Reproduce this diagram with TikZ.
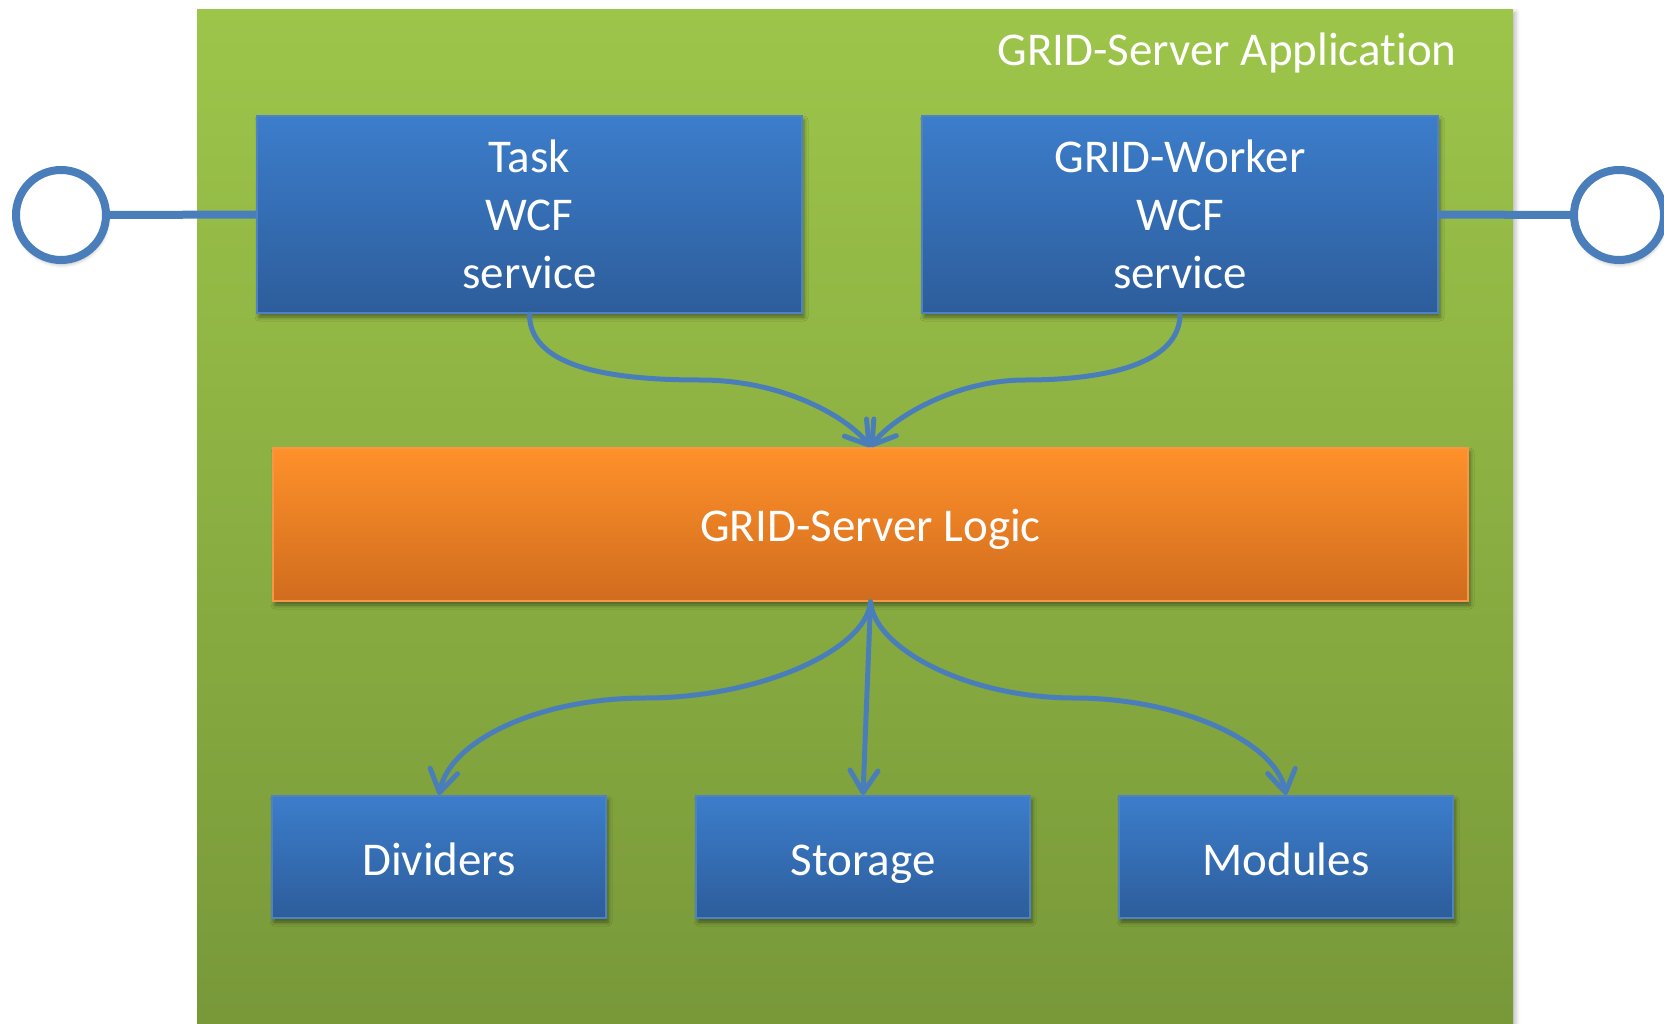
\documentclass[tikz,border=0pt]{standalone}
\usepackage{fontspec}
\setmainfont{Carlito}[Ligatures=NoCommon]
\usetikzlibrary{arrows.meta,shadows.blur}

\definecolor{appTop}{RGB}{157,197,74}
\definecolor{appBot}{RGB}{120,152,57}
\definecolor{boxTop}{RGB}{60,125,203}
\definecolor{boxBot}{RGB}{45,93,155}
\definecolor{boxEdge}{RGB}{78,130,196}
\definecolor{logicTop}{RGB}{255,145,42}
\definecolor{logicBot}{RGB}{208,108,30}
\definecolor{logicEdge}{RGB}{247,150,70}
\definecolor{wire}{RGB}{74,126,187}

\tikzset{
  bigtext/.style={font=\fontsize{47}{58}\selectfont, text=white, align=center},
  appbox/.style={rectangle, draw=none, top color=appTop, bottom color=appBot,
    blur shadow={shadow xshift=3pt, shadow yshift=-2pt, shadow blur radius=4pt, shadow opacity=25}},
  svcbox/.style={rectangle, bigtext, draw=boxEdge, line width=2, top color=boxTop, bottom color=boxBot,
    inner sep=0pt,
    blur shadow={shadow xshift=2pt, shadow yshift=-4pt, shadow blur radius=4pt, shadow opacity=45}},
  oneline/.style={text height=40, text depth=3},
  logicbox/.style={rectangle, bigtext, draw=logicEdge, line width=2, top color=logicTop, bottom color=logicBot,
    inner sep=0pt, text height=38, text depth=5,
    blur shadow={shadow xshift=2pt, shadow yshift=-4pt, shadow blur radius=4pt, shadow opacity=45}},
  port/.style={circle, draw=wire, line width=8, fill=white, minimum size=90, inner sep=0pt,
    blur shadow={shadow xshift=1pt, shadow yshift=-4pt, shadow blur radius=4pt, shadow opacity=35}},
  portline/.style={draw=wire, line width=8},
  flow/.style={draw=wire, line width=5, line cap=round, line join=round,
    -{Straight Barb[length=22, width=28, line cap=round, line join=round]}},
}

\begin{document}
\begin{tikzpicture}[x=1pt,y=-1pt]
  \useasboundingbox (0,0) rectangle (1664,1024);

  % application frame
  \node[appbox, minimum width=1316, minimum height=1024] (app) at (855,522) {};
  \node[bigtext, anchor=base east] (apptitle) at (1460,66) {GRID-Server Application};

  % external ports
  \node[port] (lport) at (61,215) {};
  \node[port] (rport) at (1619,215) {};

  % service boxes
  \node[svcbox, minimum width=545, minimum height=197] (task) at (529.5,214.5) {Task\\WCF\\service};
  \node[svcbox, minimum width=516, minimum height=197] (worker) at (1180,214.5) {GRID-Worker\\WCF\\service};

  % port connections
  \draw[portline] (lport.east) -- (task.west);
  \draw[portline] (worker.east) -- (rport.west);

  % server logic
  \node[logicbox, minimum width=1195, minimum height=153] (logic) at (870.5,524.5) {GRID-Server Logic};

  % components
  \node[svcbox, oneline, minimum width=334, minimum height=122] (div) at (439,857) {Dividers};
  \node[svcbox, oneline, minimum width=334, minimum height=122] (store) at (863,857) {Storage};
  \node[svcbox, oneline, minimum width=334, minimum height=122] (mod) at (1286,857) {Modules};

  % flows into the logic
  \draw[flow] (task.south) .. controls +(0,50) and (600,380) .. (700,380)
              .. controls (785,380) and (848,418) .. (logic.north);
  \draw[flow] (worker.south) .. controls +(0,50) and (1105,380) .. (1025,380)
              .. controls (955,380) and (892,418) .. (logic.north);

  % flows out of the logic
  \draw[flow] (logic.south) .. controls (866,650) and (760,698) .. (645,698)
              .. controls (540,698) and (450,740) .. (div.north);
  \draw[flow] (logic.south) -- (store.north);
  \draw[flow] (logic.south) .. controls (875,650) and (970,698) .. (1074,698)
              .. controls (1180,698) and (1276,742) .. (mod.north);
\end{tikzpicture}
\end{document}
